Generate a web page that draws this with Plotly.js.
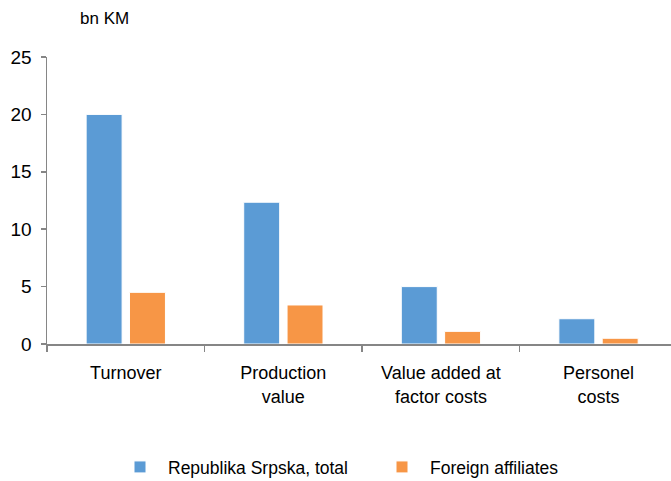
<!DOCTYPE html>
<html>
<head>
<meta charset="utf-8">
<script src="https://cdn.plot.ly/plotly-3.0.1.min.js"></script>
<style>html,body{margin:0;padding:0;background:#fff}#chart{width:671px;height:481px}</style>
</head>
<body>
<div id="chart"></div>
<script>
const categories = ["Turnover", "Production<br>value", "Value added at<br>factor costs", "Personel<br>costs"];
const seriesNames = ["Republika Srpska, total", "Foreign affiliates"];
const totalValues = [20.0, 12.35, 5.0, 2.2];
const foreignValues = [4.5, 3.4, 1.1, 0.5];
const yTicks = [0, 5, 10, 15, 20, 25];
const unitLabel = "bn KM";

const font = "Liberation Sans, Arial, sans-serif";
const traces = [
  {type: "bar", name: seriesNames[0], x: categories, y: totalValues,
   marker: {color: "#5B9BD5", line: {color: "#ffffff", width: 1}}},
  {type: "bar", name: seriesNames[1], x: categories, y: foreignValues,
   marker: {color: "#F79646", line: {color: "#ffffff", width: 1}}}
];
const layout = {
  width: 671, height: 481,
  margin: {l: 47, r: 0, t: 57, b: 137},
  paper_bgcolor: "#fff", plot_bgcolor: "#fff",
  font: {family: font, size: 17.5, color: "#000"},
  barmode: "group", bargap: 0.45, bargroupgap: 0.17,
  showlegend: true,
  hovermode: false,
  xaxis: {
    type: "category", range: [-0.5, 3.46],
    showline: true, linecolor: "#868686", linewidth: 1.5,
    ticks: "outside", tickson: "boundaries", ticklen: 6, tickcolor: "#868686", tickwidth: 1.5,
    ticklabelstandoff: 12,
    showgrid: false, zeroline: false,
    tickfont: {family: font, size: 18, color: "#000"}
  },
  yaxis: {
    range: [0, 25], tickvals: yTicks, ticktext: yTicks.map(String),
    showline: true, linecolor: "#868686", linewidth: 1.5,
    ticks: "outside", ticklen: 5, tickcolor: "#868686", tickwidth: 1.5,
    ticklabelstandoff: 5,
    showgrid: false, zeroline: false,
    tickfont: {family: font, size: 19, color: "#000"}
  },
  legend: {
    orientation: "h", xref: "container", xanchor: "left",
    y: 0.029, yref: "container", yanchor: "middle",
    font: {family: font, size: 17.5, color: "#000"},
    entrywidth: 201, entrywidthmode: "pixels", itemwidth: 46,
    itemclick: false, itemdoubleclick: false
  },
  annotations: [{
    text: unitLabel, xref: "paper", yref: "paper", x: 0.05, y: 1.135,
    xanchor: "left", yanchor: "middle", showarrow: false,
    font: {family: font, size: 17, color: "#000"}
  }]
};
layout.legend.x = 112 / 671;
Plotly.newPlot("chart", traces, layout, {displayModeBar: false, staticPlot: true});
</script>
</body>
</html>
